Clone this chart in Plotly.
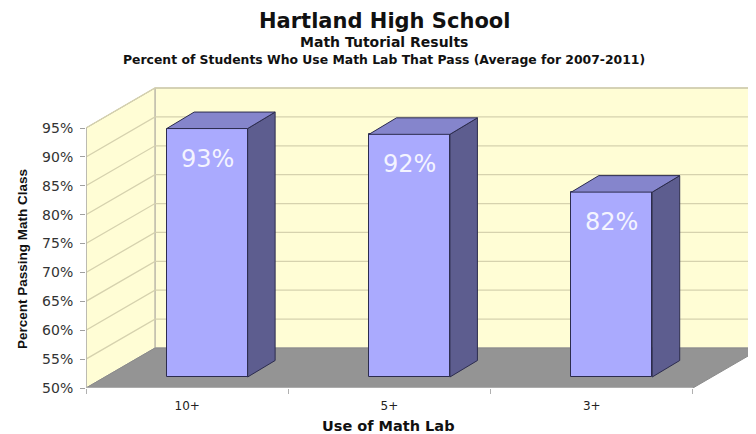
import plotly.graph_objects as go

# ---------------- data ----------------
categories = ["10+", "5+", "3+"]
pass_rates = [93, 92, 82]
label_texts = ["93%", "92%", "82%"]
y_tick_vals = [50, 55, 60, 65, 70, 75, 80, 85, 90, 95]
y_tick_text = ["50%", "55%", "60%", "65%", "70%", "75%", "80%", "85%", "90%", "95%"]

title_main = "Hartland High School"
title_sub = "Math Tutorial Results"
title_sub2 = "Percent of Students Who Use Math Lab That Pass (Average for 2007-2011)"
x_title = "Use of Math Lab"
y_title = "Percent Passing Math Class"

# ---------------- geometry / style ----------------
OFF = 8                                # page body margin of the browser
W, H = 756 - OFF, 434 - OFF
ML, MT = 86 - OFF, 80 - OFF
PLOT_BOTTOM = 388 - OFF
MR, MB = 0, H - PLOT_BOTTOM
PW, PH = W - ML - MR, PLOT_BOTTOM - MT
PX_PER_CAT = 202.3                     # pixels per category on the front plane
PX_PER_UNIT_Y = 260 / 45               # pixels per percentage point
Y_MIN, Y_WALL_TOP = 50, 95

x_range = [-0.5, -0.5 + PW / PX_PER_CAT]
y_range = [Y_MIN, Y_MIN + PH / PX_PER_UNIT_Y]

def dx(px):
    return px / PX_PER_CAT

def dy(px):
    return px / PX_PER_UNIT_Y

WALL_DX, WALL_DY = dx(69), dy(40)      # chart depth
BAR_DX, BAR_DY = dx(20), dy(11)        # bar plane offset from the front
BAR_DEPTH_X, BAR_DEPTH_Y = dx(27.5), dy(16.5)
BAR_W = 0.40

WALL_COLOR = "#FFFDD5"
GRID_COLOR = "#D6D2AE"
EDGE_COLOR = "#A6A6A6"
FLOOR_COLOR = "#949494"
FRONT_COLOR = "#AAAAFE"
SIDE_COLOR = "#5D5D8F"
TOP_COLOR = "#8585CC"
BAR_EDGE = "#2C2C4E"

TITLE_FONT = "DejaVu Sans"
X_LEFT, X_RIGHT = -0.5, len(categories) - 0.5

shapes = []

# back wall
bx0, by0 = X_LEFT + WALL_DX, Y_MIN + WALL_DY
bx1, by1 = X_RIGHT + WALL_DX, Y_WALL_TOP + WALL_DY
shapes.append(dict(type="path", xref="x", yref="y", layer="below",
                   path=f"M{bx0},{by0} L{bx1},{by0} L{bx1},{by1} L{bx0},{by1} Z",
                   fillcolor=WALL_COLOR, line=dict(color=EDGE_COLOR, width=1)))
# left side wall
shapes.append(dict(type="path", xref="x", yref="y", layer="below",
                   path=(f"M{X_LEFT},{Y_MIN} L{X_LEFT},{Y_WALL_TOP} "
                         f"L{bx0},{by1} L{bx0},{by0} Z"),
                   fillcolor=WALL_COLOR, line=dict(color=EDGE_COLOR, width=1)))
# gridlines on walls
for v in y_tick_vals[1:]:
    shapes.append(dict(type="path", xref="x", yref="y", layer="below",
                       path=(f"M{X_LEFT},{v} L{bx0},{v + WALL_DY} "
                             f"L{bx1},{v + WALL_DY}"),
                       line=dict(color=GRID_COLOR, width=1.3)))
# back wall left edge over gridlines
shapes.append(dict(type="line", xref="x", yref="y", layer="below",
                   x0=bx0, x1=bx0, y0=by0, y1=by1,
                   line=dict(color="#CFCBB0", width=1)))
# floor
shapes.append(dict(type="path", xref="x", yref="y", layer="below",
                   path=(f"M{X_LEFT},{Y_MIN} L{X_RIGHT},{Y_MIN} "
                         f"L{bx1},{by0} L{bx0},{by0} Z"),
                   fillcolor=FLOOR_COLOR, line=dict(color="#8A8A8A", width=1)))
# front axis edges
shapes.append(dict(type="line", xref="x", yref="y", layer="below",
                   x0=X_LEFT, x1=X_LEFT, y0=Y_MIN, y1=Y_WALL_TOP,
                   line=dict(color=EDGE_COLOR, width=1)))
shapes.append(dict(type="line", xref="x", yref="y", layer="below",
                   x0=X_LEFT, x1=X_RIGHT, y0=Y_MIN, y1=Y_MIN,
                   line=dict(color="#C8C8C8", width=1)))

# bar side and top faces (bar plane axes)
xs = list(range(len(categories)))
for xi, v in zip(xs, pass_rates):
    xl, xr = xi - BAR_W / 2, xi + BAR_W / 2
    shapes.append(dict(type="path", xref="x2", yref="y2", layer="above",
                       path=(f"M{xr},{Y_MIN} L{xr + BAR_DEPTH_X},{Y_MIN + BAR_DEPTH_Y} "
                             f"L{xr + BAR_DEPTH_X},{v + BAR_DEPTH_Y} L{xr},{v} Z"),
                       fillcolor=SIDE_COLOR, line=dict(color=BAR_EDGE, width=1)))
    shapes.append(dict(type="path", xref="x2", yref="y2", layer="above",
                       path=(f"M{xl},{v} L{xl + BAR_DEPTH_X},{v + BAR_DEPTH_Y} "
                             f"L{xr + BAR_DEPTH_X},{v + BAR_DEPTH_Y} L{xr},{v} Z"),
                       fillcolor=TOP_COLOR, line=dict(color=BAR_EDGE, width=1)))

fig = go.Figure()
fig.add_trace(go.Bar(
    x=xs, y=[v - Y_MIN for v in pass_rates], base=Y_MIN,
    width=BAR_W, xaxis="x2", yaxis="y2",
    marker=dict(color=FRONT_COLOR, line=dict(color=BAR_EDGE, width=1)),
    hovertext=[f"{c}: {v}%" for c, v in zip(categories, pass_rates)],
    hoverinfo="text", showlegend=False,
))

annotations = []
# value labels
for xi, v, t in zip(xs, pass_rates, label_texts):
    annotations.append(dict(x=xi, y=v, xref="x2", yref="y2", text=t,
                            showarrow=False, yanchor="middle", yshift=-30,
                            font=dict(family="DejaVu Sans", size=24, color="#F4F4FF")))

def top_shift(ref_px):
    # yshift relative to the plot top for a reference-page y pixel
    return MT - (ref_px - OFF)

cx = (384 - OFF - ML) / PW
annotations += [
    dict(x=cx, y=1, xref="paper", yref="paper", text=title_main, showarrow=False,
         yanchor="middle", yshift=top_shift(21),
         font=dict(family=TITLE_FONT, size=21, color="#111111", weight="bold")),
    dict(x=cx, y=1, xref="paper", yref="paper", text=title_sub, showarrow=False,
         yanchor="middle", yshift=top_shift(42),
         font=dict(family=TITLE_FONT, size=14, color="#111111", weight="bold")),
    dict(x=cx, y=1, xref="paper", yref="paper", text=title_sub2, showarrow=False,
         yanchor="middle", yshift=top_shift(59),
         font=dict(family=TITLE_FONT, size=12.4, color="#111111", weight="bold")),
    dict(x=(388 - OFF - ML) / PW, y=1, xref="paper", yref="paper", text=x_title,
         showarrow=False, yanchor="middle", yshift=top_shift(426),
         font=dict(family=TITLE_FONT, size=14.5, color="#111111", weight="bold")),
    dict(x=0, y=1, xref="paper", yref="paper", text=y_title,
         showarrow=False, textangle=-90, xanchor="center", yanchor="middle",
         yshift=top_shift(259), xshift=(22 - OFF) - ML,
         font=dict(family="Liberation Sans", size=13.5, color="#111111", weight="bold")),
]

fig.update_layout(
    width=W, height=H,
    margin=dict(l=ML, r=MR, t=MT, b=MB),
    paper_bgcolor="white", plot_bgcolor="white",
    shapes=shapes, annotations=annotations,
    bargap=0,
    xaxis=dict(range=x_range, showgrid=False, zeroline=False, showline=False,
               tickmode="array", tickvals=xs, ticktext=categories, ticks="",
               ticklabelstandoff=9,
               tickfont=dict(family="DejaVu Sans", size=12, color="#222222"),
               minor=dict(tickmode="array", tickvals=[X_LEFT + i for i in range(len(categories) + 1)],
                          ticks="outside", ticklen=5, tickcolor="#B0B0B0", showgrid=False),
               fixedrange=True),
    yaxis=dict(range=y_range, showgrid=False, zeroline=False, showline=False,
               tickmode="array", tickvals=y_tick_vals, ticktext=y_tick_text,
               ticks="outside", ticklen=5, tickcolor="#A0A0A0",
               ticklabelstandoff=4,
               tickfont=dict(family="DejaVu Sans", size=14, color="#333333"),
               fixedrange=True),
    xaxis2=dict(range=[x_range[0] - BAR_DX, x_range[1] - BAR_DX], overlaying="x",
                visible=False, fixedrange=True),
    yaxis2=dict(range=[y_range[0] - BAR_DY, y_range[1] - BAR_DY], overlaying="y",
                visible=False, fixedrange=True),
)

fig.write_html("out.html")
